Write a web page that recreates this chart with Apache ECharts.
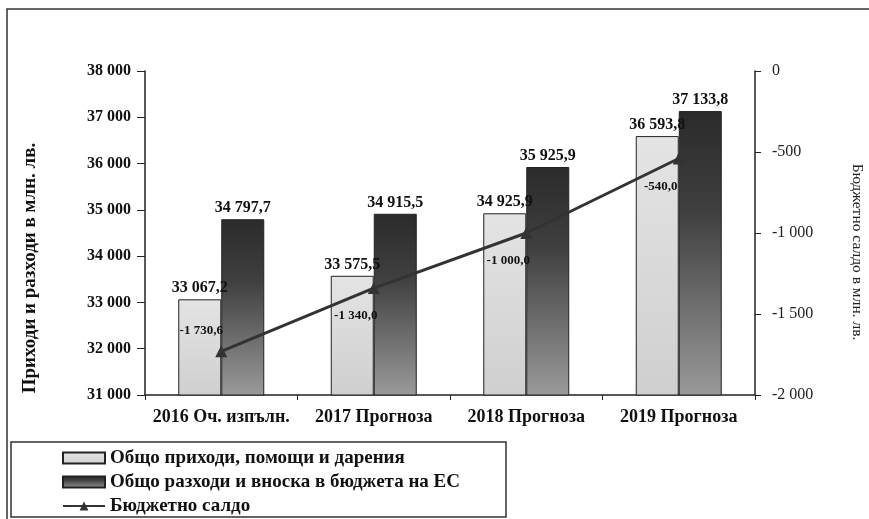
<!DOCTYPE html>
<html>
<head>
<meta charset="utf-8">
<script src="https://cdn.jsdelivr.net/npm/echarts@6/dist/echarts.min.js"></script>
<style>
  html, body { margin: 0; padding: 0; background: #fff; }
  #chart { width: 869px; height: 519px; }
</style>
</head>
<body>
<div id="chart"></div>
<script>
// данни
var categories = ['2016 Оч. изпълн.', '2017 Прогноза', '2018 Прогноза', '2019 Прогноза']
var revenues = [33067.2, 33575.5, 34925.9, 36593.8]
var expenses = [34797.7, 34915.5, 35925.9, 37133.8]
var balance = [-1730.6, -1340.0, -1000.0, -540.0]
var leftTicks = [31000, 38000, 1000]
var rightTicks = [-2000, 0, 500]

var serif = '"Liberation Serif", "DejaVu Serif", serif'

// 33067.2 -> "33 067,2"
function fmt(v, dec) {
  var s = Math.abs(v).toFixed(dec)
  var parts = s.split('.')
  var int = parts[0].replace(/\B(?=(\d{3})+(?!\d))/g, ' ')
  return (v < 0 ? '-' : '') + int + (parts[1] ? ',' + parts[1] : '')
}

var chart = echarts.init(document.getElementById('chart'))

// етикети на салдото - първият е над точката, останалите под нея
var lineData = balance.map(function (v, i) {
  return {
    value: v,
    label: { offset: i === 0 ? [-20, -21] : [-18, 28] }
  }
})

var option = {
  animation: false,
  backgroundColor: '#fff',
  textStyle: { fontFamily: serif },
  grid: { left: 145, right: 114, top: 71, bottom: 124 },
  legend: {
    orient: 'vertical',
    left: 62,
    top: 448,
    padding: 0,
    itemWidth: 42,
    itemHeight: 11,
    itemGap: 4,
    textStyle: { fontFamily: serif, fontWeight: 'bold', fontSize: 19, lineHeight: 20, color: '#111' },
    data: [
      { name: 'Общо приходи, помощи и дарения', icon: 'rect' },
      { name: 'Общо разходи и вноска в бюджета на ЕС', icon: 'rect' },
      'Бюджетно салдо'
    ]
  },
  graphic: [
    { type: 'polyline', shape: { points: [[7, 519], [7, 9], [869, 9]] }, style: { fill: null, stroke: '#333', lineWidth: 1.5 } },
    { type: 'rect', shape: { x: 11, y: 442, width: 495, height: 75 }, style: { fill: 'none', stroke: '#333', lineWidth: 1.5 } },
    {
      type: 'text', x: 30, y: 268, rotation: Math.PI / 2,
      style: {
        text: 'Приходи и разходи в млн. лв.', fill: '#111',
        font: 'bold 19px ' + serif, textAlign: 'center', textVerticalAlign: 'middle'
      }
    },
    {
      type: 'text', x: 857, y: 252, rotation: -Math.PI / 2,
      style: {
        text: 'Бюджетно салдо в млн. лв.', fill: '#222',
        font: '15.5px ' + serif, textAlign: 'center', textVerticalAlign: 'middle'
      }
    }
  ],
  xAxis: {
    type: 'category',
    data: categories,
    axisLine: { onZero: false, lineStyle: { color: '#222', width: 1.5 } },
    axisTick: { show: true, length: 5, lineStyle: { color: '#222' } },
    axisLabel: { interval: 0, hideOverlap: false, color: '#111', fontFamily: serif, fontWeight: 'bold', fontSize: 18, margin: 13 }
  },
  yAxis: [
    {
      type: 'value',
      min: leftTicks[0],
      max: leftTicks[1],
      interval: leftTicks[2],
      axisLine: { show: true, onZero: false, lineStyle: { color: '#222', width: 1.5 } },
      axisTick: { show: true, length: 8, lineStyle: { color: '#222' } },
      splitLine: { show: false },
      axisLabel: {
        color: '#111', fontFamily: serif, fontWeight: 'bold', fontSize: 16, margin: 14,
        formatter: function (v) { return fmt(v, 0) }
      }
    },
    {
      type: 'value',
      min: rightTicks[0],
      max: rightTicks[1],
      interval: rightTicks[2],
      position: 'right',
      axisLine: { show: true, onZero: false, lineStyle: { color: '#222', width: 1.5 } },
      axisTick: { show: true, length: 6, lineStyle: { color: '#222' } },
      splitLine: { show: false },
      axisLabel: {
        color: '#222', fontFamily: serif, fontSize: 16, margin: 17,
        formatter: function (v) { return fmt(v, 0) }
      }
    }
  ],
  series: [
    {
      name: 'Общо приходи, помощи и дарения',
      type: 'bar',
      data: revenues,
      barWidth: 43,
      barGap: 0,
      itemStyle: {
        borderColor: '#222',
        borderWidth: 1,
        color: new echarts.graphic.LinearGradient(0, 0, 0, 1, [
          { offset: 0, color: '#e4e4e4' },
          { offset: 1, color: '#cfcfcf' }
        ])
      },
      label: {
        show: true, position: 'top', distance: 3,
        fontFamily: serif, fontWeight: 'bold', fontSize: 16, color: '#111',
        formatter: function (p) { return fmt(p.value, 1) }
      }
    },
    {
      name: 'Общо разходи и вноска в бюджета на ЕС',
      type: 'bar',
      data: expenses,
      barWidth: 43,
      barGap: 0,
      itemStyle: {
        borderColor: '#222',
        borderWidth: 1,
        color: new echarts.graphic.LinearGradient(0, 0, 0, 1, [
          { offset: 0, color: '#2b2b2b' },
          { offset: 0.35, color: '#3f3f3f' },
          { offset: 1, color: '#9a9a9a' }
        ])
      },
      label: {
        show: true, position: 'top', distance: 3,
        fontFamily: serif, fontWeight: 'bold', fontSize: 16, color: '#111',
        formatter: function (p) { return fmt(p.value, 1) }
      }
    },
    {
      name: 'Бюджетно салдо',
      type: 'line',
      yAxisIndex: 1,
      data: lineData,
      symbol: 'triangle',
      symbolSize: 12,
      lineStyle: { color: '#333', width: 3 },
      itemStyle: { color: '#333' },
      z: 5,
      label: {
        show: true, position: 'inside',
        fontFamily: serif, fontWeight: 'bold', fontSize: 13, color: '#111',
        formatter: function (p) { return fmt(p.value, 1) }
      }
    }
  ]
}

chart.setOption(option)
</script>
</body>
</html>
